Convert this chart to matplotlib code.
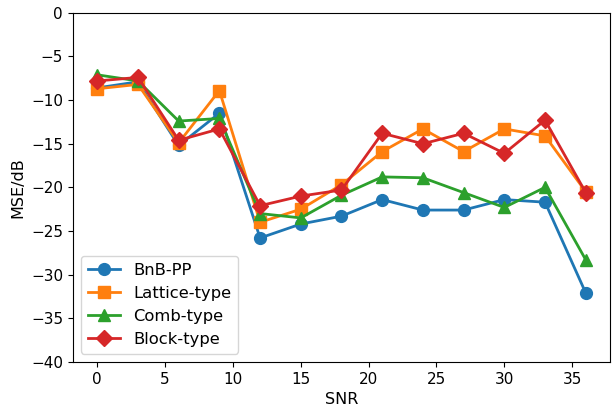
import numpy as np
import matplotlib
matplotlib.use("Agg")
import matplotlib.pyplot as plt

snr = [0, 3, 6, 9, 12, 15, 18, 21, 24, 27, 30, 33, 36]
bnb_pp = [-8.6, -7.9, -15.2, -11.5, -25.8, -24.2, -23.3, -21.4, -22.6, -22.6, -21.4, -21.7, -32.1]
lattice = [-8.7, -8.2, -14.9, -8.9, -24.0, -22.5, -19.7, -15.9, -13.3, -15.9, -13.3, -14.1, -20.5]
comb = [-7.1, -7.8, -12.4, -12.1, -23.0, -23.5, -20.9, -18.8, -18.9, -20.6, -22.3, -20.0, -28.3]
block = [-7.8, -7.4, -14.6, -13.3, -22.1, -21.0, -20.3, -13.8, -15.0, -13.8, -16.1, -12.3, -20.6]

plt.rcParams['font.size'] = 11

fig, ax = plt.subplots(figsize=(6.12, 4.15), dpi=100)
ax.plot(snr, bnb_pp, marker="o", markersize=8.5, linewidth=2, label="BnB-PP")
ax.plot(snr, lattice, marker="s", markersize=8.5, linewidth=2, label="Lattice-type")
ax.plot(snr, comb, marker="^", markersize=8.5, linewidth=2, label="Comb-type")
ax.plot(snr, block, marker="D", markersize=8.5, linewidth=2, label="Block-type")

ax.set_ylim(-40, 0)
ax.set_xlabel("SNR", fontsize=11.5)
ax.set_ylabel("MSE/dB", fontsize=11.5)
ax.legend(loc="lower left", fontsize=11.8)

plt.subplots_adjust(left=0.119, right=0.997, top=0.969, bottom=0.128)
plt.savefig("out.png")
